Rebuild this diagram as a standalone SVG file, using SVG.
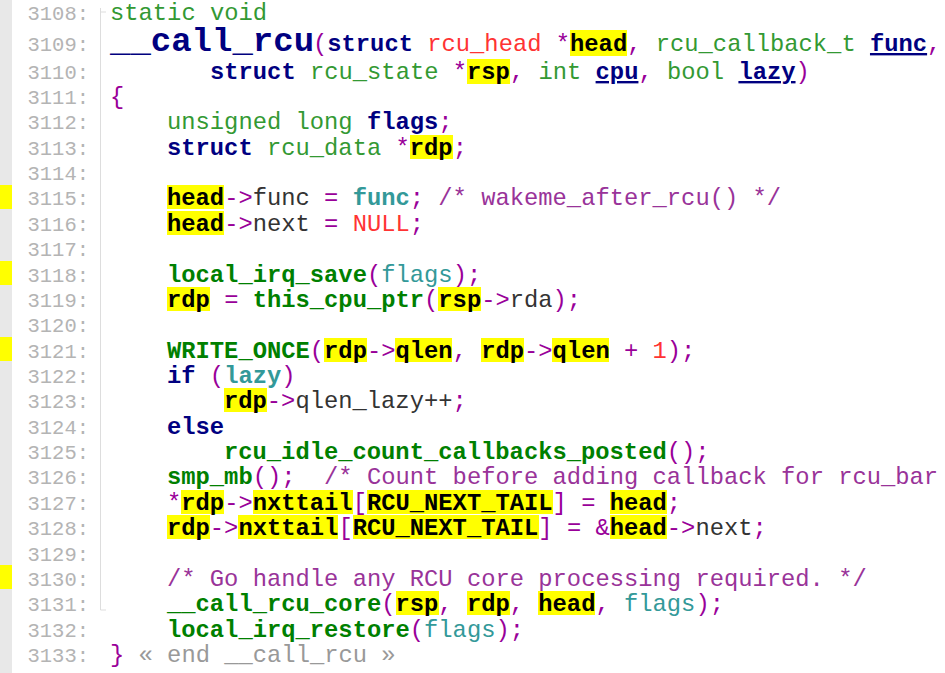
<svg xmlns="http://www.w3.org/2000/svg" width="945" height="673" viewBox="0 0 945 673">
<style>
text{font-family:"Liberation Mono","DejaVu Sans Mono",monospace;font-size:23.8px;white-space:pre}
.ln{font-size:20.5px;fill:#b4b4b4;text-anchor:end}
.kw{fill:#339933}
.st{fill:#000080;font-weight:bold}
.fn{fill:#008000;font-weight:bold}
.tl{fill:#339999}
.tb{fill:#339999;font-weight:bold}
.rd{fill:#ff3333}
.pu{fill:#990099}
.cm{fill:#993399}
.v{fill:#000;font-weight:bold}
.pl{fill:#333}
.gr{fill:#999}
.u{text-decoration:underline}
.hl{fill:#ffff00}
</style>
<rect width="945" height="673" fill="#fff"/>
<rect x="0" y="0" width="12" height="673" fill="#e8e8e8"/>
<g id="markers" fill="#ffff00">
<rect x="0" y="185" width="12" height="24"/>
<rect x="0" y="261" width="12" height="24"/>
<rect x="0" y="337" width="12" height="24"/>
<rect x="0" y="565" width="12" height="24"/>
</g>
<line x1="100.5" y1="8" x2="100.5" y2="610" stroke="#ddd" stroke-width="1"/>
<path d="M106 12 H100.5 M100.5 610 H106" stroke="#ddd" fill="none"/>
<g id="highlights" class="hl">
<rect x="570" y="30" width="57" height="26"/>
<rect x="467" y="59" width="43" height="25"/>
<rect x="410" y="135" width="43" height="24"/>
<rect x="167" y="185" width="57" height="24"/>
<rect x="167" y="211" width="57" height="24"/>
<rect x="167" y="287" width="43" height="24"/>
<rect x="438" y="287" width="43" height="24"/>
<rect x="324" y="338" width="43" height="24"/>
<rect x="395" y="338" width="57" height="24"/>
<rect x="481" y="338" width="43" height="24"/>
<rect x="552" y="338" width="57" height="24"/>
<rect x="224" y="388" width="43" height="24"/>
<rect x="181" y="490" width="43" height="24"/>
<rect x="253" y="490" width="100" height="24"/>
<rect x="367" y="490" width="186" height="24"/>
<rect x="610" y="490" width="57" height="24"/>
<rect x="167" y="515" width="43" height="24"/>
<rect x="238" y="515" width="100" height="24"/>
<rect x="353" y="515" width="186" height="24"/>
<rect x="610" y="515" width="57" height="24"/>
<rect x="396" y="591" width="43" height="24"/>
<rect x="467" y="591" width="43" height="24"/>
<rect x="538" y="591" width="57" height="24"/>
</g>
<g id="linenumbers">
<text class="ln" x="89" y="20">3108:</text>
<text class="ln" x="89" y="51">3109:</text>
<text class="ln" x="89" y="79">3110:</text>
<text class="ln" x="89" y="104">3111:</text>
<text class="ln" x="89" y="129.4">3112:</text>
<text class="ln" x="89" y="154.7">3113:</text>
<text class="ln" x="89" y="180.1">3114:</text>
<text class="ln" x="89" y="205.4">3115:</text>
<text class="ln" x="89" y="230.8">3116:</text>
<text class="ln" x="89" y="256.2">3117:</text>
<text class="ln" x="89" y="281.5">3118:</text>
<text class="ln" x="89" y="306.9">3119:</text>
<text class="ln" x="89" y="332.3">3120:</text>
<text class="ln" x="89" y="357.6">3121:</text>
<text class="ln" x="89" y="383">3122:</text>
<text class="ln" x="89" y="408.3">3123:</text>
<text class="ln" x="89" y="433.7">3124:</text>
<text class="ln" x="89" y="459.1">3125:</text>
<text class="ln" x="89" y="484.4">3126:</text>
<text class="ln" x="89" y="509.8">3127:</text>
<text class="ln" x="89" y="535.2">3128:</text>
<text class="ln" x="89" y="560.5">3129:</text>
<text class="ln" x="89" y="585.9">3130:</text>
<text class="ln" x="89" y="611.2">3131:</text>
<text class="ln" x="89" y="636.6">3132:</text>
<text class="ln" x="89" y="662">3133:</text>
</g>
<g id="code">
<text x="110" y="20" class="kw">static void</text>
<text x="110" y="51" class="st" style="font-size:34px">__call_rcu</text>
<text x="313" y="51"><tspan class="pu">(</tspan><tspan class="st">struct</tspan> <tspan class="rd">rcu_head</tspan> <tspan class="pu">*</tspan><tspan class="v">head</tspan><tspan class="pu">,</tspan> <tspan class="kw">rcu_callback_t</tspan> <tspan class="st u">func</tspan><tspan class="pu">,</tspan></text>
<text x="210" y="79"><tspan class="st">struct</tspan> <tspan class="kw">rcu_state</tspan> <tspan class="pu">*</tspan><tspan class="v">rsp</tspan><tspan class="pu">,</tspan> <tspan class="kw">int</tspan> <tspan class="st u">cpu</tspan><tspan class="pu">,</tspan> <tspan class="kw">bool</tspan> <tspan class="st u">lazy</tspan><tspan class="pu">)</tspan></text>
<text x="110" y="104" class="pu">{</text>
<text x="167" y="129.4"><tspan class="kw">unsigned long</tspan> <tspan class="st">flags</tspan><tspan class="pu">;</tspan></text>
<text x="167" y="154.7"><tspan class="st">struct</tspan> <tspan class="kw">rcu_data</tspan> <tspan class="pu">*</tspan><tspan class="v">rdp</tspan><tspan class="pu">;</tspan></text>
<text x="167" y="205.4"><tspan class="v">head</tspan><tspan class="pu">-&gt;</tspan><tspan class="pl">func</tspan> <tspan class="pu">=</tspan> <tspan class="tb">func</tspan><tspan class="pu">;</tspan> <tspan class="cm">/* wakeme_after_rcu() */</tspan></text>
<text x="167" y="230.8"><tspan class="v">head</tspan><tspan class="pu">-&gt;</tspan><tspan class="pl">next</tspan> <tspan class="pu">=</tspan> <tspan class="rd">NULL</tspan><tspan class="pu">;</tspan></text>
<text x="167" y="281.5"><tspan class="fn">local_irq_save</tspan><tspan class="pu">(</tspan><tspan class="tl">flags</tspan><tspan class="pu">);</tspan></text>
<text x="167" y="306.9"><tspan class="v">rdp</tspan> <tspan class="pu">=</tspan> <tspan class="fn">this_cpu_ptr</tspan><tspan class="pu">(</tspan><tspan class="v">rsp</tspan><tspan class="pu">-&gt;</tspan><tspan class="pl">rda</tspan><tspan class="pu">);</tspan></text>
<text x="167" y="357.6"><tspan class="fn">WRITE_ONCE</tspan><tspan class="pu">(</tspan><tspan class="v">rdp</tspan><tspan class="pu">-&gt;</tspan><tspan class="v">qlen</tspan><tspan class="pu">,</tspan> <tspan class="v">rdp</tspan><tspan class="pu">-&gt;</tspan><tspan class="v">qlen</tspan> <tspan class="pu">+</tspan> <tspan class="rd">1</tspan><tspan class="pu">);</tspan></text>
<text x="167" y="383"><tspan class="st">if</tspan> <tspan class="pu">(</tspan><tspan class="tb">lazy</tspan><tspan class="pu">)</tspan></text>
<text x="224" y="408.3"><tspan class="v">rdp</tspan><tspan class="pu">-&gt;</tspan><tspan class="pl">qlen_lazy++</tspan><tspan class="pu">;</tspan></text>
<text x="167" y="433.7" class="st">else</text>
<text x="224" y="459.1"><tspan class="fn">rcu_idle_count_callbacks_posted</tspan><tspan class="pu">();</tspan></text>
<text x="167" y="484.4"><tspan class="fn">smp_mb</tspan><tspan class="pu">();</tspan>  <tspan class="cm">/* Count before adding callback for rcu_bar</tspan></text>
<text x="167" y="509.8"><tspan class="pu">*</tspan><tspan class="v">rdp</tspan><tspan class="pu">-&gt;</tspan><tspan class="v">nxttail</tspan><tspan class="pu">[</tspan><tspan class="v">RCU_NEXT_TAIL</tspan><tspan class="pu">]</tspan> <tspan class="pu">=</tspan> <tspan class="v">head</tspan><tspan class="pu">;</tspan></text>
<text x="167" y="535.2"><tspan class="v">rdp</tspan><tspan class="pu">-&gt;</tspan><tspan class="v">nxttail</tspan><tspan class="pu">[</tspan><tspan class="v">RCU_NEXT_TAIL</tspan><tspan class="pu">]</tspan> <tspan class="pu">=</tspan> <tspan class="pu">&amp;</tspan><tspan class="v">head</tspan><tspan class="pu">-&gt;</tspan><tspan class="pl">next</tspan><tspan class="pu">;</tspan></text>
<text x="167" y="585.9" class="cm">/* Go handle any RCU core processing required. */</text>
<text x="167" y="611.2"><tspan class="fn">__call_rcu_core</tspan><tspan class="pu">(</tspan><tspan class="v">rsp</tspan><tspan class="pu">,</tspan> <tspan class="v">rdp</tspan><tspan class="pu">,</tspan> <tspan class="v">head</tspan><tspan class="pu">,</tspan> <tspan class="tl">flags</tspan><tspan class="pu">);</tspan></text>
<text x="167" y="636.6"><tspan class="fn">local_irq_restore</tspan><tspan class="pu">(</tspan><tspan class="tl">flags</tspan><tspan class="pu">);</tspan></text>
<text x="110" y="662"><tspan class="pu">}</tspan> <tspan class="gr">« end __call_rcu »</tspan></text>
</g>
</svg>
